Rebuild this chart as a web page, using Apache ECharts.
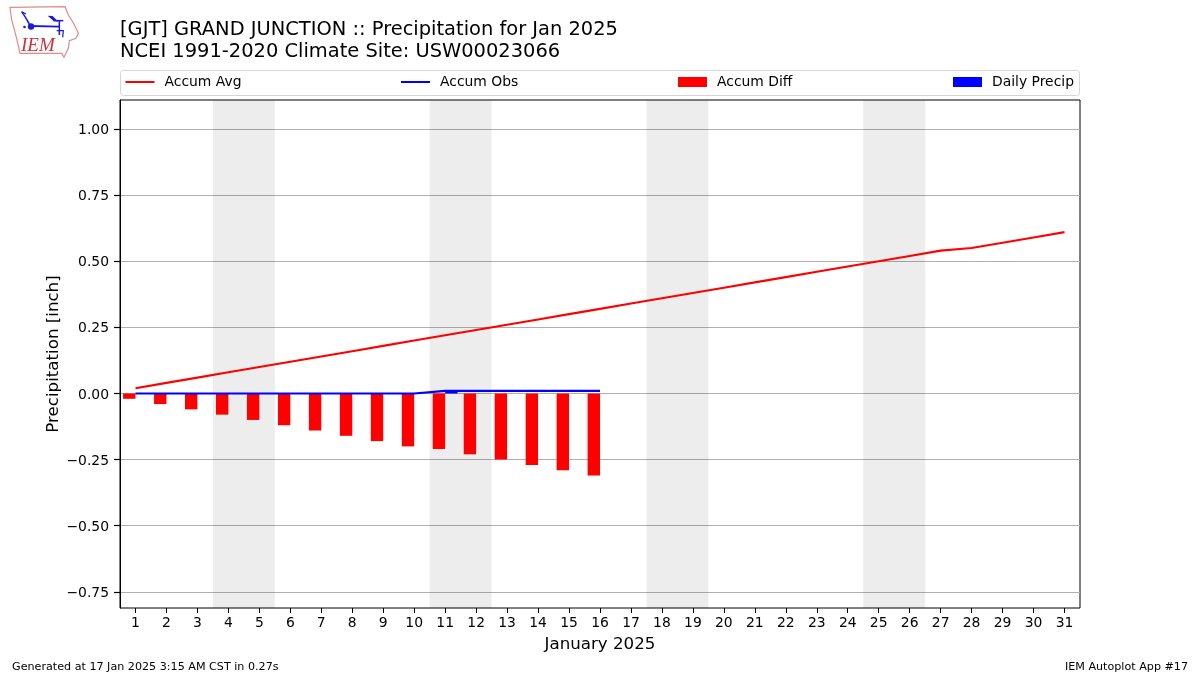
<!DOCTYPE html>
<html><head><meta charset="utf-8">
<style>html,body{margin:0;padding:0;background:#fff}#c{width:1200px;height:675px}</style>
<script src="https://cdn.jsdelivr.net/npm/echarts@6/dist/echarts.min.js"></script>
</head><body><div id="c"></div>
<script>
const days = ['1','2','3','4','5','6','7','8','9','10','11','12','13','14','15','16','17','18','19','20','21','22','23','24','25','26','27','28','29','30','31'];
const accumAvg = [0.02,0.04,0.06,0.08,0.10,0.12,0.14,0.16,0.18,0.20,0.22,0.24,0.26,0.28,0.30,0.32,0.34,0.36,0.38,0.40,0.42,0.44,0.46,0.48,0.50,0.52,0.54,0.55,0.57,0.59,0.61];
const accumObs = [0,0,0,0,0,0,0,0,0,0,0.01,0.01,0.01,0.01,0.01,0.01];
const accumDiff = [-0.02,-0.04,-0.06,-0.08,-0.10,-0.12,-0.14,-0.16,-0.18,-0.20,-0.21,-0.23,-0.25,-0.27,-0.29,-0.31];
const dailyPrecip = [0,0,0,0,0,0,0,0,0,0,0.01,0,0,0,0,0];
const weekends = [[3.5,5.5],[10.5,12.5],[17.5,19.5],[24.5,26.5]];
const yTicks = [-0.75,-0.5,-0.25,0,0.25,0.5,0.75,1];
const yMin = -0.811, yMax = 1.1096;
const FONT = '"DejaVu Sans"';
const fmtY = v => '{a|' + (v < 0 ? '\u2212' : '') + Math.abs(v).toFixed(2) + '}';

const legendEntry = (name, left, isBar) => ({
  show: true, left, top: 75, data: [{name, icon: 'rect'}], itemWidth: 29, itemHeight: isBar ? 10 : 2,
  selectedMode: false, padding: 0,
  textStyle: {fontFamily: FONT, fontSize: 13.9, color: '#000', padding: [0, 0, 0, 5]}
});

const s = (pts) => pts.map(p => [p[0] / 3, p[1] / 3]);
const logoRed = '#e08a8a', logoBlue = '#1a1ad8';
const line = (pts, color, w) => ({type: 'polyline', silent: true, shape: {points: s(pts)}, style: {stroke: color, lineWidth: w, fill: null}});
const graphic = [
  {type: 'rect', silent: true, shape: {x: 120.5, y: 70.5, width: 959, height: 25, r: 3}, style: {fill: '#fff', stroke: '#d5d5d5', lineWidth: 1}, z: -1},
  {type: 'polygon', silent: true, shape: {points: s([[30,22],[195,20],[205,45],[222,72],[235,100],[228,115],[208,122],[205,145],[192,172],[185,160],[60,160],[50,115],[42,85],[35,60]])}, style: {fill: null, stroke: logoRed, lineWidth: 1.2}},
  line([[93,78],[178,80]], logoBlue, 1.8),
  line([[178,62],[178,105]], logoBlue, 1.5),
  line([[160,62],[190,62]], logoBlue, 1.5),
  line([[65,35],[75,50],[88,72]], logoBlue, 1.5),
  line([[65,35],[78,42]], logoBlue, 1.2),
  line([[170,92],[190,92],[188,112]], logoBlue, 1.2),
  {type: 'polygon', silent: true, shape: {points: s([[143,47],[158,48],[175,65],[160,62]])}, style: {fill: logoBlue}},
  {type: 'circle', silent: true, shape: {cx: 31, cy: 26.5, r: 3.2}, style: {fill: logoBlue}},
  {type: 'circle', silent: true, shape: {cx: 24.5, cy: 27, r: 1.3}, style: {fill: logoBlue}},
  {type: 'text', silent: true, left: 21, top: 36, style: {text: 'IEM', fontFamily: '"Liberation Serif"', fontStyle: 'italic', fontSize: 19, fill: '#c8323c'}}
];

const option = {
  animation: false,
  backgroundColor: '#fff',
  title: [
    {text: '[GJT] GRAND JUNCTION :: Precipitation for Jan 2025\nNCEI 1991-2020 Climate Site: USW00023066', left: 115, top: 14,
     textStyle: {fontFamily: FONT, fontSize: 19.45, fontWeight: 'normal', color: '#000', lineHeight: 22}},
    {text: 'Generated at 17 Jan 2025 3:15 AM CST in 0.27s', left: 7, top: 657,
     textStyle: {fontFamily: FONT, fontSize: 11.15, fontWeight: 'normal', color: '#000'}},
    {text: 'IEM Autoplot App #17', right: 7, top: 657,
     textStyle: {fontFamily: FONT, fontSize: 11.15, fontWeight: 'normal', color: '#000'}}
  ],
  legend: [
    legendEntry('Accum Avg', 125.5, false),
    legendEntry('Accum Obs', 401, false),
    legendEntry('Accum Diff', 678, true),
    legendEntry('Daily Precip', 953, true)
  ],
  grid: {left: 120, top: 100, width: 960, height: 508, show: true, borderColor: '#000', borderWidth: 1, backgroundColor: 'transparent'},
  xAxis: [
    {type: 'category', data: days, boundaryGap: true,
     name: 'January 2025', nameLocation: 'middle', nameGap: 28,
     nameTextStyle: {fontFamily: FONT, fontSize: 16.67, color: '#000'},
     axisLine: {show: false, onZero: false},
     axisTick: {show: true, alignWithLabel: true, length: 5, lineStyle: {color: '#000'}},
     axisLabel: {show: true, interval: 0, margin: 8, fontFamily: FONT, fontSize: 13.9, color: '#000'},
     splitLine: {show: false}},
    {type: 'value', min: 0.5, max: 31.5, show: false, position: 'bottom'}
  ],
  yAxis: {
    type: 'value', min: yMin, max: yMax, interval: 0.25,
    name: 'Precipitation [inch]', nameLocation: 'middle', nameGap: 58, nameRotate: 90, nameMoveOverlap: false,
    nameTextStyle: {fontFamily: FONT, fontSize: 16.67, color: '#000'},
    axisLine: {show: true, lineStyle: {color: '#000', width: 1}},
    axisTick: {show: true, inside: false, length: 6, customValues: yTicks, lineStyle: {color: '#000', width: 1.2}},
    axisLabel: {show: true, customValues: yTicks, margin: 11, formatter: fmtY,
      rich: {a: {padding: [3, 0, 0, 0], fontFamily: FONT, fontSize: 13.9, color: '#000'}}},
    splitLine: {show: true, customValues: yTicks, lineStyle: {color: '#b0b0b0', width: 1}}
  },
  series: [
    {name: 'Weekends', type: 'line', xAxisIndex: 1, yAxisIndex: 0, data: [], silent: true, z: 1,
     markArea: {silent: true, itemStyle: {color: 'rgba(0,0,0,0.07)'}, label: {show: false},
       data: weekends.map(w => [{xAxis: w[0]}, {xAxis: w[1]}])}},
    {name: 'Accum Diff', type: 'bar', data: accumDiff, barWidth: 12.4, barGap: '0%', itemStyle: {color: '#ff0000'}, z: 2},
    {name: 'Daily Precip', type: 'bar', data: dailyPrecip, barWidth: 12.4, barGap: '0%', itemStyle: {color: '#0000ff'}, z: 2},
    {name: 'Accum Avg', type: 'line', data: accumAvg, symbol: 'none', lineStyle: {color: '#ff0000', width: 2.1}, itemStyle: {color: '#ff0000'}, z: 3},
    {name: 'Accum Obs', type: 'line', data: accumObs, symbol: 'none', lineStyle: {color: '#0000ff', width: 2.1}, itemStyle: {color: '#0000ff'}, z: 4}
  ],
  graphic
};
echarts.init(document.getElementById('c'), null, {renderer: 'canvas'}).setOption(option);
</script></body></html>
